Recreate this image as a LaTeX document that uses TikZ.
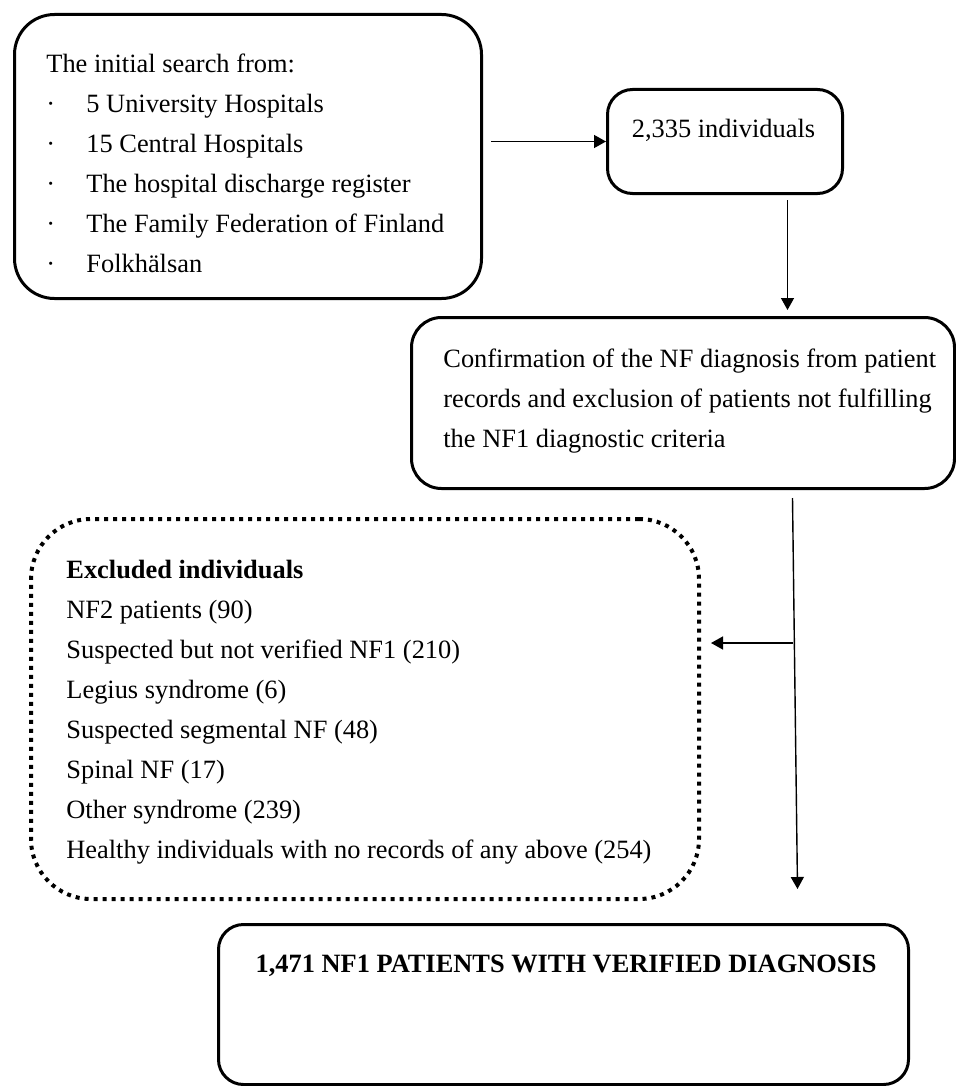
\documentclass[tikz,border=0pt]{standalone}
\usepackage{fontspec}
\setmainfont{Liberation Serif}
\usetikzlibrary{arrows.meta}

\tikzset{
  flowbox/.style={draw, line width=1.5pt, rounded corners=#1, inner sep=0pt, anchor=north west},
  dotbox/.style={draw, line width=2pt, dash pattern=on 2pt off 2.5pt, rounded corners=30pt, inner sep=0pt, anchor=north west},
  flowtext/.style={inner sep=0pt, align=left, font=\fontsize{13.2}{20}\selectfont},
  link/.style={line width=0.7pt, -{Triangle[length=6pt,width=6.5pt]}}
}
\newcommand{\dotitem}[1]{\makebox[20pt][l]{\textperiodcentered}#1}

\begin{document}
\begin{tikzpicture}[x=0.5pt,y=-0.5pt]
\useasboundingbox (0,0) rectangle (955,1086);
% boxes
\node[flowbox=20pt, minimum width=233.5pt, minimum height=142pt] (search) at (13,13) {};
\node[flowbox=12.5pt, minimum width=117.5pt, minimum height=52pt] (count) at (606,88) {};
\node[flowbox=15pt, minimum width=271.5pt, minimum height=85.5pt] (confirm) at (410,316) {};
\node[dotbox, minimum width=334pt, minimum height=190pt] (excluded) at (29,517) {};
\node[flowbox=12.5pt, minimum width=345pt, minimum height=80pt] (final) at (217,923) {};
% texts
\node[flowtext, anchor=north west] (searchtxt) at (46,54) {The initial search from:\\
  \dotitem{5 University Hospitals}\\
  \dotitem{15 Central Hospitals}\\
  \dotitem{The hospital discharge register}\\
  \dotitem{The Family Federation of Finland}\\
  \dotitem{Folkhälsan}};
\node[flowtext, anchor=base] (counttxt) at (723.5,138) {2,335 individuals};
\node[flowtext, anchor=north west] (confirmtxt) at (443,349) {Confirmation of the NF diagnosis from patient\\
  records and exclusion of patients not fulfilling\\
  the NF1 diagnostic criteria};
\node[flowtext, anchor=north west] (excludedtxt) at (66,560) {\textbf{Excluded individuals}\\
  NF2 patients (90)\\
  Suspected but not verified NF1 (210)\\
  Legius syndrome (6)\\
  Suspected segmental NF (48)\\
  Spinal NF (17)\\
  Other syndrome (239)\\
  Healthy individuals with no records of any above (254)};
\node[flowtext, anchor=base east] (finaltxt) at (877,972) {\textbf{1,471 NF1 PATIENTS WITH VERIFIED DIAGNOSIS}};
% arrows
\draw[link] ([xshift=4pt]search.east |- count.west) -- (count.west);
\draw[link] ([xshift=31.25pt,yshift=-2.5pt]count.south) -- ([xshift=52.25pt,yshift=3pt]confirm.north);
\draw[link] ([xshift=54.75pt,yshift=-4pt]confirm.south) -- ([xshift=117pt,yshift=17pt]final.north);
\coordinate (branch) at (793,643);
\draw[link] (branch) -- ([xshift=5pt]excluded.east |- branch);
\end{tikzpicture}
\end{document}
